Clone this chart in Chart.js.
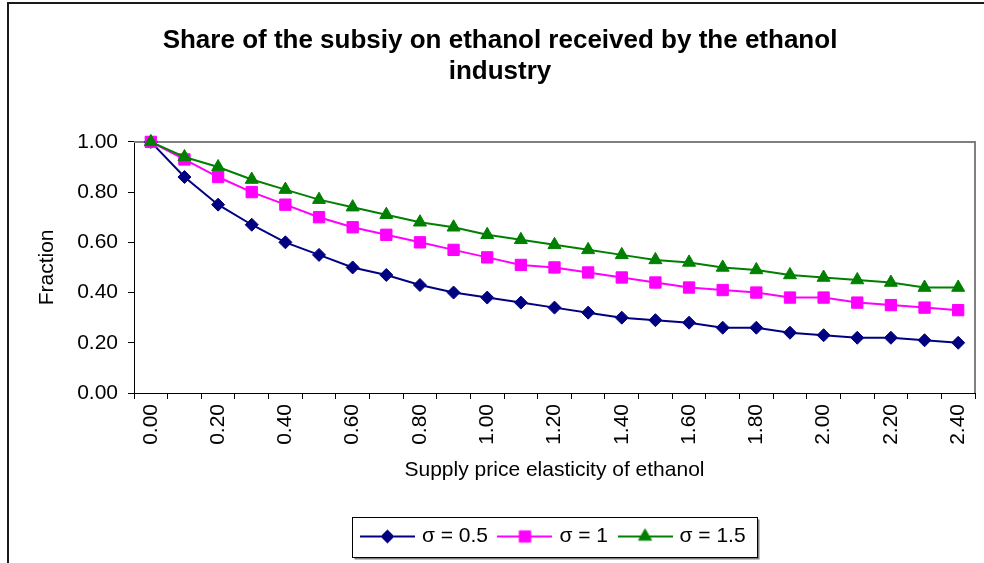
<!DOCTYPE html>
<html>
<head>
<meta charset="utf-8">
<script src="https://cdn.jsdelivr.net/npm/chart.js@4.4.0/dist/chart.umd.min.js"></script>
<style>
html, body { margin: 0; padding: 0; background: #fff; }
canvas { display: block; }
</style>
</head>
<body>
<canvas id="shareChart" width="984" height="563"></canvas>
<script>
// supply price elasticity (categories)
const elasticity = ['0.00','0.10','0.20','0.30','0.40','0.50','0.60','0.70','0.80','0.90',
  '1.00','1.10','1.20','1.30','1.40','1.50','1.60','1.70','1.80','1.90',
  '2.00','2.10','2.20','2.30','2.40'];

// share of the subsidy received, per sigma
const sigma05 = [1.00,0.86,0.75,0.67,0.60,0.55,0.50,0.47,0.43,0.40,0.38,0.36,0.34,
  0.32,0.30,0.29,0.28,0.26,0.26,0.24,0.23,0.22,0.22,0.21,0.20];
const sigma1 = [1.00,0.93,0.86,0.80,0.75,0.70,0.66,0.63,0.60,0.57,0.54,0.51,0.50,
  0.48,0.46,0.44,0.42,0.41,0.40,0.38,0.38,0.36,0.35,0.34,0.33];
const sigma15 = [1.00,0.94,0.90,0.85,0.81,0.77,0.74,0.71,0.68,0.66,0.63,0.61,0.59,
  0.57,0.55,0.53,0.52,0.50,0.49,0.47,0.46,0.45,0.44,0.42,0.42];

const seriesNames = ['σ = 0.5', 'σ = 1', 'σ = 1.5'];
const seriesColors = ['#000080', '#ff00ff', '#008000'];
const seriesMarkers = ['rectRot', 'rect', 'triangle'];
const markerSizes = [6.5, 8, 7.5];

const FONT = '"Liberation Sans", Arial, sans-serif';
Chart.defaults.color = '#000';
Chart.defaults.font.family = FONT;

function legendIcon(i) {
  const c = document.createElement('canvas');
  c.width = 55; c.height = 20;
  const g = c.getContext('2d');
  g.strokeStyle = seriesColors[i];
  g.fillStyle = seriesColors[i];
  g.lineWidth = 2;
  g.beginPath(); g.moveTo(0, 10); g.lineTo(55, 10); g.stroke();
  g.lineWidth = 1;
  Chart.helpers.drawPoint(g, {pointStyle: seriesMarkers[i], radius: markerSizes[i], rotation: 0, borderWidth: 1}, 27.5, 10);
  return c;
}
const icons = [0, 1, 2].map(legendIcon);

const framePlugin = {
  id: 'frames',
  beforeDraw(chart) {
    const ctx = chart.ctx;
    ctx.save();
    ctx.fillStyle = '#fff';
    ctx.fillRect(0, 0, chart.width, chart.height);
    ctx.strokeStyle = '#1a1a1a';
    ctx.lineWidth = 2;
    ctx.strokeRect(8, 3, chart.width + 20, chart.height + 20);

    // legend box with shadow
    const hb = chart.legend.legendHitBoxes;
    if (hb && hb.length) {
      const last = hb[hb.length - 1];
      const x0 = Math.round(hb[0].left - 11.5) + 0.5;
      const x1 = Math.round(last.left + last.width + 11) + 0.5;
      const y0 = Math.round(hb[0].top - 9) + 0.5;
      const y1 = Math.round(hb[0].top + hb[0].height + 10) + 0.5;
      ctx.fillStyle = '#808080';
      ctx.fillRect(x0 + 2, y0 + 2, x1 - x0, y1 - y0);
      ctx.fillStyle = '#fff';
      ctx.fillRect(x0, y0, x1 - x0, y1 - y0);
      ctx.strokeStyle = '#000';
      ctx.lineWidth = 1;
      ctx.strokeRect(x0, y0, x1 - x0, y1 - y0);
    }
    ctx.restore();
  },
  beforeDatasetsDraw(chart) {
    const a = chart.chartArea;
    const ctx = chart.ctx;
    ctx.save();
    ctx.strokeStyle = '#808080';
    ctx.lineWidth = 2;
    ctx.beginPath();
    ctx.moveTo(a.left, a.top);
    ctx.lineTo(a.right, a.top);
    ctx.lineTo(a.right, a.bottom);
    ctx.stroke();
    ctx.restore();
  }
};

const series = [sigma05, sigma1, sigma15];

new Chart(document.getElementById('shareChart'), {
  type: 'line',
  data: {
    labels: elasticity,
    datasets: series.map((vals, i) => ({
      label: seriesNames[i],
      data: vals,
      borderColor: seriesColors[i],
      backgroundColor: seriesColors[i],
      pointBackgroundColor: seriesColors[i],
      pointBorderColor: seriesColors[i],
      pointStyle: seriesMarkers[i],
      pointRadius: markerSizes[i],
      pointBorderWidth: 1,
      borderWidth: 2,
      tension: 0,
      clip: false,
      order: 2 - i
    }))
  },
  options: {
    responsive: false,
    animation: false,
    layout: { padding: { left: 25, right: 9, top: 0, bottom: 6 } },
    plugins: {
      title: {
        display: true,
        text: ['Share of the subsiy on ethanol received by the ethanol', 'industry'],
        font: { size: 26, weight: 'bold', lineHeight: 1.19 },
        color: '#000',
        padding: { top: 25, bottom: 55 }
      },
      legend: {
        position: 'bottom',
        fullSize: false,
        labels: {
          usePointStyle: true,
          pointStyleWidth: 48,
          padding: 13,
          font: { size: 21 },
          color: '#000',
          sort: (a, b) => a.datasetIndex - b.datasetIndex,
          generateLabels(chart) {
            const items = Chart.defaults.plugins.legend.labels.generateLabels(chart);
            items.forEach(it => { it.pointStyle = icons[it.datasetIndex]; });
            return items;
          }
        }
      },
      tooltip: { enabled: false }
    },
    scales: {
      x: {
        type: 'category',
        offset: true,
        afterFit(scale) { scale.height = 120; },
        grid: { offset: true, drawOnChartArea: false, drawTicks: true, tickLength: 6, color: '#000' },
        border: { color: '#000', width: 1 },
        ticks: {
          autoSkip: false,
          minRotation: 90,
          maxRotation: 90,
          padding: 5,
          font: { size: 21, lineHeight: 0.8 },
          color: '#000',
          callback(value, index) { return index % 2 === 0 ? this.getLabelForValue(value) : ''; }
        },
        title: {
          display: true,
          text: 'Supply price elasticity of ethanol',
          font: { size: 21 },
          color: '#000',
          padding: { top: 0, bottom: 30 }
        }
      },
      y: {
        min: 0,
        max: 1,
        afterFit(scale) { scale.width = 109; },
        grid: { drawOnChartArea: false, drawTicks: true, tickLength: 6, color: '#000' },
        border: { color: '#000', width: 1 },
        ticks: {
          stepSize: 0.2,
          padding: 10,
          font: { size: 21 },
          color: '#000',
          callback: v => v.toFixed(2)
        },
        title: {
          display: true,
          text: 'Fraction',
          font: { size: 21 },
          color: '#000',
          padding: { top: 10, bottom: 0 }
        }
      }
    }
  },
  plugins: [framePlugin]
});
</script>
</body>
</html>
